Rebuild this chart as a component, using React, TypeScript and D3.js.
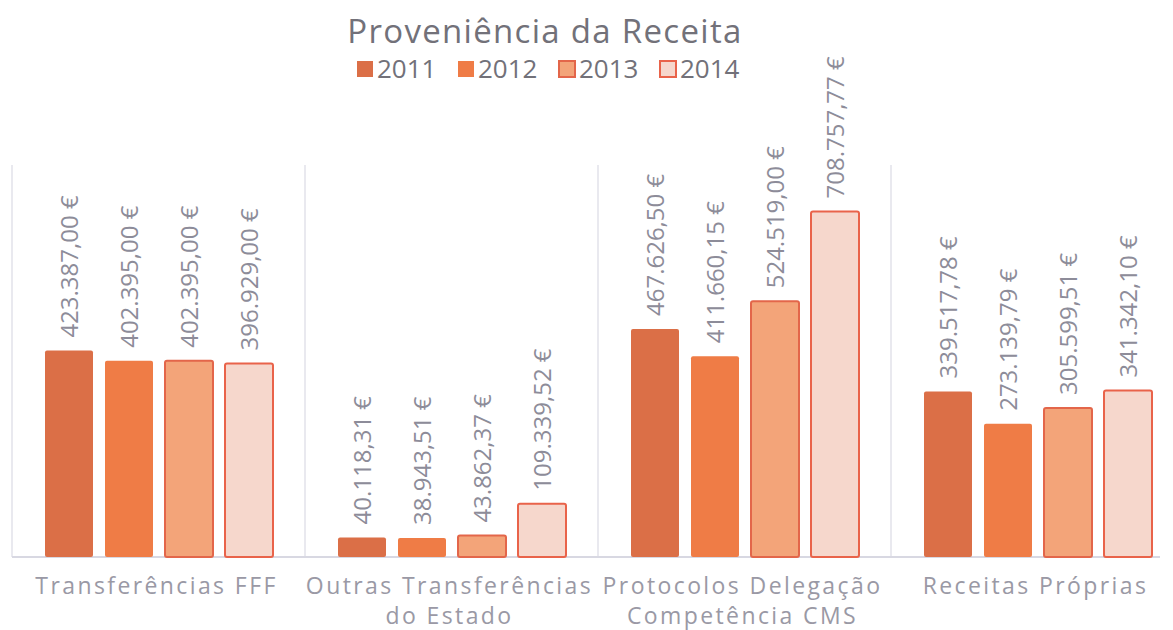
import React from 'react';
import * as d3 from 'd3';

const categories = [
  ['Transferências FFF'],
  ['Outras Transferências', 'do Estado'],
  ['Protocolos Delegação', 'Competência CMS'],
  ['Receitas Próprias'],
];
const years = ['2011', '2012', '2013', '2014'];
const values2011 = [423387.0, 40118.31, 467626.5, 339517.78];
const values2012 = [402395.0, 38943.51, 411660.15, 273139.79];
const values2013 = [402395.0, 43862.37, 524519.0, 305599.51];
const values2014 = [396929.0, 109339.52, 708757.77, 341342.1];
const seriesValues = [values2011, values2012, values2013, values2014];

const fills = ['#db6f47', '#ef7c46', '#f3a479', '#f6d7cc'];
const strokes = ['none', 'none', '#e3664a', '#e9634a'];
const textColor = '#8d8c99';
const font = '"Open Sans", sans-serif';

const fmt = (v: number) => {
  const s = d3.format(',.2f')(v); // 423,387.00
  return s.replace(/,/g, '#').replace('.', ',').replace(/#/g, '.') + ' €';
};

export default function App() {
  const width = 1173;
  const height = 630;
  const baseY = 557;

  const x = d3
    .scaleBand<number>()
    .domain(categories.map((_, i) => i))
    .range([12, 1184]);

  const xi = d3.scaleBand<string>().domain(years).range([33, 261]).paddingInner(0.2);

  const y = d3.scaleLinear().domain([0, 800000]).range([baseY, 167]);

  return (
    <svg width={width} height={height} style={{ position: 'absolute', left: 0, top: 0 }}>
      <rect width={width} height={height} fill="#ffffff" />

      {/* title + legend */}
      <text
        x={545}
        y={43}
        textAnchor="middle"
        fontFamily={font}
        fontSize={33}
        letterSpacing={1.3}
        fill="#727179"
      >
        Proveniência da Receita
      </text>
      {years.map((yr, i) => {
        const lx = 357 + i * 101;
        return (
          <g key={yr}>
            <rect
              x={lx}
              y={61}
              width={16}
              height={16}
              fill={fills[i]}
              stroke={strokes[i] === 'none' ? 'none' : strokes[i]}
              strokeWidth={2}
            />
            <text x={lx + 20} y={78} fontFamily={font} fontSize={26} fill="#727179">
              {yr}
            </text>
          </g>
        );
      })}

      {/* gridlines */}
      {categories.map((_, i) => (
        <line
          key={'g' + i}
          x1={x(i)!}
          x2={x(i)!}
          y1={165}
          y2={baseY}
          stroke="#e2e2ea"
          strokeWidth={1.5}
        />
      ))}
      <line x1={12} x2={1160} y1={baseY} y2={baseY} stroke="#d8d8e2" strokeWidth={2} />

      {/* bars */}
      {categories.map((_, ci) =>
        years.map((yr, si) => {
          const v = seriesValues[si][ci];
          const bx = x(ci)! + xi(yr)!;
          const by = y(v);
          const cx = bx + xi.bandwidth() / 2;
          return (
            <g key={ci + '-' + yr}>
              <rect
                x={bx}
                y={by}
                width={xi.bandwidth()}
                height={baseY - by}
                rx={2}
                fill={fills[si]}
                stroke={strokes[si]}
                strokeWidth={2}
              />
              <text
                transform={`translate(${cx + 9},${by - 13}) rotate(-90)`}
                fontFamily={font}
                fontSize={24}
                fill={textColor}
              >
                {fmt(v)}
              </text>
            </g>
          );
        })
      )}

      {/* category labels */}
      {categories.map((lines, ci) => (
        <text
          key={'c' + ci}
          x={x(ci)! + x.bandwidth() / 2 - 2}
          y={594}
          textAnchor="middle"
          fontFamily={font}
          fontSize={23}
          letterSpacing={2.4}
          fill="#9a99a5"
        >
          {lines.map((l, li) => (
            <tspan key={li} x={x(ci)! + x.bandwidth() / 2 - 2} dy={li === 0 ? 0 : 30}>
              {l}
            </tspan>
          ))}
        </text>
      ))}
    </svg>
  );
}
